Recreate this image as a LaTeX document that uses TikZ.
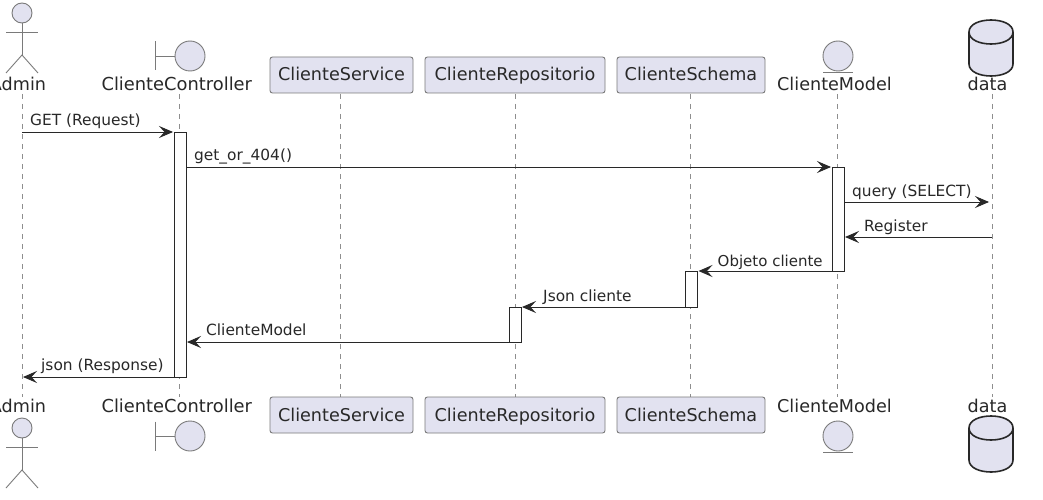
\documentclass[tikz,border=0pt]{standalone}
\usepackage{fontspec}
\setmainfont{DejaVu Sans}
\usetikzlibrary{arrows.meta}
\definecolor{partfill}{HTML}{E2E2F0}
\definecolor{ink}{HTML}{282828}
\definecolor{soft}{HTML}{7A7A7A}
\tikzset{
  msg/.style={draw=ink,line width=.9pt,-{Stealth[length=14pt,width=12pt,inset=5.5pt]},shorten >=1pt},
  lifeline/.style={draw=soft!85,line width=1pt,dash pattern=on 5pt off 5pt},
  partbox/.style={draw=soft,fill=partfill,rounded corners=2.5pt,line width=.9pt,minimum height=36pt,inner sep=0pt,outer sep=0pt,text height=16pt,text depth=4pt,font=\fontsize{17.6pt}{20pt}\selectfont,text=ink},
  partlabel/.style={anchor=base,inner sep=0pt,font=\fontsize{17.6pt}{20pt}\selectfont,text=ink},
  widelabel/.style={partlabel,font=\fontsize{17.85pt}{20pt}\selectfont},
  msglabel/.style={anchor=base west,inner sep=0pt,font=\fontsize{15.4pt}{18pt}\selectfont,text=ink},
  narrowlabel/.style={msglabel,font=\fontsize{15pt}{18pt}\selectfont},
  actbox/.style={draw=ink,fill=white,line width=.9pt,minimum width=12pt,inner sep=0pt,outer sep=0pt,anchor=north},
  glyph/.style={draw=soft,fill=partfill,line width=.9pt},
  glyphline/.style={draw=soft,line width=.9pt},
  dbline/.style={draw=ink,line width=1.6pt,fill=partfill},
}
\newcommand{\actorfig}[1]{%
  \draw[glyph] (22,#1) circle (10);
  \draw[glyphline] (22,#1+10) -- (22,#1+42);
  \draw[glyphline] (6,#1+19) -- (38,#1+19);
  \draw[glyphline] (6,#1+60) -- (22,#1+42) -- (38,#1+60);
}
\newcommand{\boundaryfig}[1]{%
  \draw[glyphline] (155,#1-14.5) -- (155,#1+14.5);
  \draw[glyphline] (155,#1) -- (175,#1);
  \draw[glyph] (190,#1) circle (15);
}
\newcommand{\entityfig}[1]{%
  \draw[glyph] (838,#1) circle (15);
  \draw[glyphline] (823,#1+16.5) -- (853,#1+16.5);
}
\newcommand{\dbfig}[1]{%
  \draw[dbline] (969,#1+12) .. controls (969,#1-4) and (1013,#1-4) .. (1013,#1+12)
    -- (1013,#1+44) .. controls (1013,#1+60) and (969,#1+60) .. (969,#1+44) -- cycle;
  \draw[dbline,fill=none] (969,#1+12) .. controls (969,#1+28) and (1013,#1+28) .. (1013,#1+12);
}
\begin{document}
\begin{tikzpicture}[x=1pt,y=-1pt]
\useasboundingbox (0,0) rectangle (1043,500);
\fill[white] (0,0) rectangle (1043,500);
% end coordinates of the lifelines
\coordinate (la) at (22,94);   \coordinate (lab) at (22,397);
\coordinate (lc) at (179,94);  \coordinate (lcb) at (179,397);
\coordinate (ls) at (340,94);  \coordinate (lsb) at (340,397);
\coordinate (lr) at (515,94);  \coordinate (lrb) at (515,397);
\coordinate (lh) at (690,94);  \coordinate (lhb) at (690,397);
\coordinate (lm) at (837,94);  \coordinate (lmb) at (837,397);
\coordinate (ld) at (992,94);  \coordinate (ldb) at (992,397);
\foreach \p/\q in {la/lab,lc/lcb,ls/lsb,lr/lrb,lh/lhb,lm/lmb,ld/ldb}
  \draw[lifeline] (\p) -- (\q);
% figures
\actorfig{13}
\actorfig{428}
\boundaryfig{56}
\boundaryfig{436}
\entityfig{56}
\entityfig{436}
\dbfig{20}
\dbfig{416}
% labels, top
\node[partlabel] (adminT) at (18,91) {Admin};
\node[widelabel] (ctrlT) at (176.8,91) {ClienteController};
\node[partlabel] (modelT) at (834.5,91) {ClienteModel};
\node[partlabel] (dataT) at (987.5,91) {data};
% labels, bottom
\node[partlabel] (adminB) at (18,412) {Admin};
\node[widelabel] (ctrlB) at (176.8,412) {ClienteController};
\node[partlabel] (modelB) at (834.5,412) {ClienteModel};
\node[partlabel] (dataB) at (987.5,412) {data};
% boxes
\foreach \y/\s in {75/T,415/B}{
  \node[partbox,minimum width=143pt] (svc\s) at (341.5,\y) {ClienteService};
  \node[partbox,minimum width=180pt] (rep\s) at (515,\y) {ClienteRepositorio};
  \node[partbox,minimum width=148pt] (sch\s) at (691,\y) {ClienteSchema};
}
% activations
\node[actbox,minimum height=245pt] (actC) at (180,132) {};
\node[actbox,minimum height=104pt] (actM) at (838,167) {};
\node[actbox,minimum height=36pt] (actH) at (691.5,271) {};
\node[actbox,minimum height=35pt] (actR) at (515,307) {};
% free ends
\coordinate (adm1) at (22,132);
\coordinate (adm2) at (22,377);
\coordinate (dat1) at (990,202);
\coordinate (dat2) at (992,237);
\coordinate (m1) at (actM.north west);
\coordinate (m2) at (844,202);
\coordinate (m3) at (844,237);
\coordinate (c2) at (186,167);
\coordinate (c3) at (186,342);
% messages
\draw[msg] (adm1) -- (actC.north west);
\draw[msg] (c2) -- (m1);
\draw[msg] (m2) -- (dat1);
\draw[msg] (dat2) -- (m3);
\draw[msg] (actM.south west) -- (actH.north east);
\draw[msg] (actH.south west) -- (actR.north east);
\draw[msg] (actR.south west) -- (c3);
\draw[msg] (actC.south west) -- (adm2);
% message labels
\node[msglabel] (t1) at (30,125) {GET (Request)};
\node[msglabel] (t2) at (194,160) {get\_or\_404()};
\node[msglabel] (t3) at (852,196) {query (SELECT)};
\node[msglabel] (t4) at (864,231) {Register};
\node[narrowlabel] (t5) at (717.5,266) {Objeto cliente};
\node[msglabel] (t6) at (543,301) {Json cliente};
\node[msglabel] (t7) at (206,335) {ClienteModel};
\node[msglabel] (t8) at (41,370) {json (Response)};
\end{tikzpicture}
\end{document}
